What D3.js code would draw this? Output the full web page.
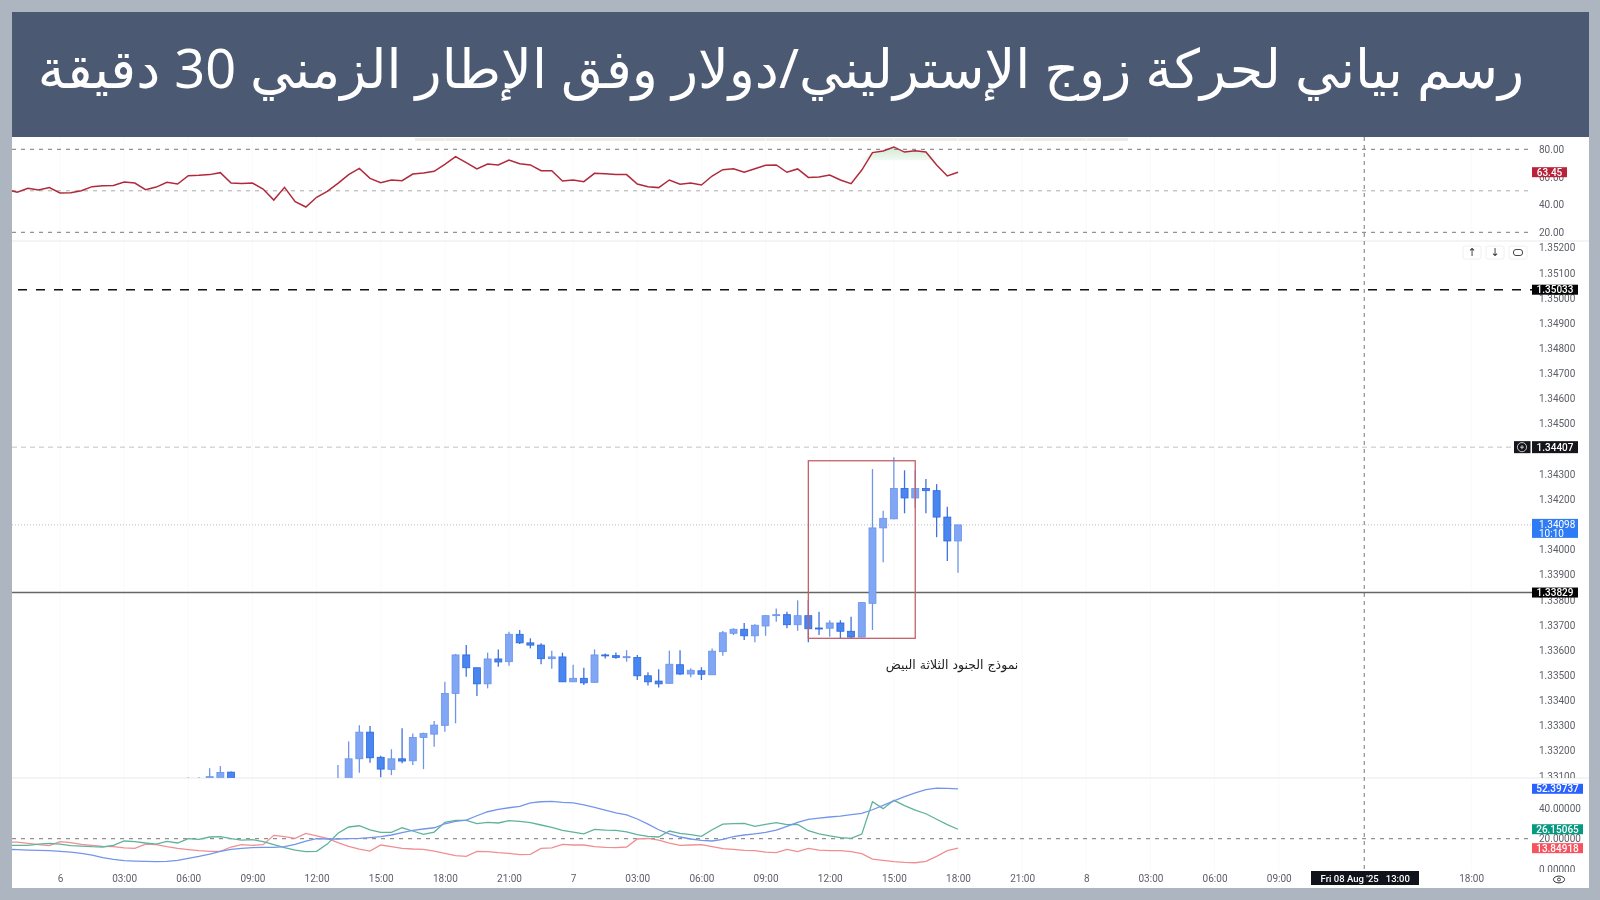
<!DOCTYPE html>
<html lang="ar">
<head>
<meta charset="utf-8">
<title>GBP/USD 30m</title>
<script src="https://cdn.jsdelivr.net/npm/d3@7"></script>
<style>
	html, body { margin: 0; padding: 0; background: #adb6c0; }
	svg { display: block; filter: blur(0.4px); }
	text { font-family: Roboto, "Noto Sans", sans-serif; }
	.axis path, .axis line { display: none; }
	.axis text { fill: #5d6068; font-size: 10px; }
</style>
</head>
<body>
<div id="chart-area"></div>
<script>
const titleText = 'رسم بياني لحركة زوج الإسترليني/دولار وفق الإطار الزمني 30 دقيقة';
const patternText = 'نموذج الجنود الثلاثة البيض';

// half hour slots counted from Aug 6 00:00
const candleSlots = d3.range(12, 17).concat(d3.range(26, 85));
const opens = [
	1.33085, 1.33080, 1.33085, 1.33085, 1.33115,
	1.33040, 1.33075, 1.33168, 1.33274, 1.33174, 1.33126, 1.33168, 1.33160, 1.33253, 1.33266,
	1.33301, 1.33428, 1.33581, 1.33530, 1.33466, 1.33565, 1.33554, 1.33663, 1.33629, 1.33620,
	1.33566, 1.33573, 1.33474, 1.33488, 1.33472, 1.33581, 1.33578, 1.33570, 1.33571, 1.33498,
	1.33477, 1.33468, 1.33542, 1.33505, 1.33518, 1.33502, 1.33594, 1.33667, 1.33683, 1.33657,
	1.33696, 1.33737, 1.33741, 1.33701, 1.33737, 1.33688, 1.33687, 1.33708, 1.33675, 1.33652,
	1.33786, 1.34086, 1.34122, 1.34243, 1.34205, 1.34243, 1.34234, 1.34129, 1.34034
];
const highs = [
	1.33094, 1.33095, 1.33130, 1.33139, 1.33117,
	1.33143, 1.33237, 1.33301, 1.33298, 1.33180, 1.33206, 1.33289, 1.33269, 1.33272, 1.33318,
	1.33474, 1.33585, 1.33620, 1.33530, 1.33590, 1.33603, 1.33673, 1.33680, 1.33647, 1.33627,
	1.33598, 1.33590, 1.33542, 1.33530, 1.33603, 1.33587, 1.33591, 1.33600, 1.33581, 1.33512,
	1.33524, 1.33598, 1.33600, 1.33528, 1.33532, 1.33607, 1.33676, 1.33687, 1.33708, 1.33703,
	1.33740, 1.33766, 1.33753, 1.33798, 1.33799, 1.33753, 1.33719, 1.33719, 1.33733, 1.33791,
	1.34320, 1.34154, 1.34367, 1.34315, 1.34316, 1.34280, 1.34260, 1.34170, 1.34098
];
const lows = [
	1.33075, 1.33070, 1.33075, 1.33075, 1.33075,
	1.33030, 1.33060, 1.33113, 1.33152, 1.33095, 1.33103, 1.33150, 1.33143, 1.33127, 1.33216,
	1.33276, 1.33309, 1.33494, 1.33418, 1.33448, 1.33534, 1.33538, 1.33624, 1.33607, 1.33544,
	1.33526, 1.33473, 1.33473, 1.33461, 1.33470, 1.33567, 1.33566, 1.33554, 1.33481, 1.33459,
	1.33451, 1.33467, 1.33501, 1.33492, 1.33481, 1.33501, 1.33578, 1.33660, 1.33640, 1.33631,
	1.33657, 1.33713, 1.33687, 1.33677, 1.33631, 1.33660, 1.33653, 1.33645, 1.33645, 1.33651,
	1.33680, 1.33949, 1.34120, 1.34144, 1.34165, 1.34144, 1.34049, 1.33954, 1.33908
];
const closes = [
	1.33088, 1.33085, 1.33097, 1.33114, 1.33085,
	1.33070, 1.33168, 1.33274, 1.33172, 1.33127, 1.33168, 1.33159, 1.33253, 1.33269, 1.33302,
	1.33428, 1.33581, 1.33530, 1.33466, 1.33565, 1.33553, 1.33663, 1.33629, 1.33620, 1.33566,
	1.33573, 1.33474, 1.33488, 1.33470, 1.33581, 1.33577, 1.33571, 1.33574, 1.33498, 1.33474,
	1.33466, 1.33544, 1.33505, 1.33520, 1.33504, 1.33596, 1.33669, 1.33683, 1.33657, 1.33699,
	1.33737, 1.33741, 1.33701, 1.33737, 1.33685, 1.33684, 1.33708, 1.33675, 1.33652, 1.33789,
	1.34086, 1.34124, 1.34243, 1.34205, 1.34243, 1.34234, 1.34129, 1.34034, 1.34098
];

// indicator series run from slot -5 to slot 84
const lineSlots = d3.range(-5, 85);
const rsiValues = [
	51.0, 48.9, 51.8, 50.6, 52.3, 48.4, 48.6, 50.1, 53.0, 53.7,
	53.9, 56.4, 55.6, 50.8, 52.7, 56.1, 54.9, 60.9, 61.2, 61.7,
	63.1, 55.6, 55.2, 55.6, 51.3, 43.3, 52.5, 42.1, 38.3, 45.3,
	49.6, 55.4, 61.7, 66.2, 59.0, 55.9, 57.8, 57.3, 62.1, 62.9,
	64.1, 69.1, 74.7, 70.3, 65.8, 69.4, 68.7, 72.3, 69.6, 68.7,
	64.5, 64.5, 57.1, 57.8, 56.6, 62.6, 62.4, 61.7, 61.7, 54.9,
	53.0, 52.3, 57.8, 54.7, 55.6, 54.2, 60.7, 65.3, 66.0, 63.4,
	66.0, 68.4, 68.7, 63.4, 65.8, 59.7, 60.0, 61.4, 57.8, 55.2,
	65.0, 77.6, 78.8, 81.7, 78.0, 79.0, 78.0, 68.7, 60.7, 63.45
];
const adxValues = [
	13.1, 12.9, 12.6, 12.4, 12.2, 11.8, 11.3, 10.5, 9.4, 7.7,
	6.6, 5.7, 5.5, 5.3, 5.1, 5.3, 5.9, 7.2, 8.5, 10.0,
	11.8, 13.1, 13.7, 14.2, 14.4, 14.4, 14.8, 16.3, 18.5, 20.0,
	19.8, 19.8, 20.0, 20.2, 20.7, 21.3, 22.4, 23.9, 25.4, 26.3,
	27.1, 29.7, 31.3, 32.1, 34.9, 37.5, 39.0, 40.1, 41.0, 43.2,
	44.0, 44.3, 43.6, 43.2, 41.9, 40.4, 38.6, 36.7, 35.4, 32.8,
	29.5, 25.8, 23.2, 21.1, 19.8, 18.9, 18.5, 19.6, 21.3, 22.4,
	23.2, 24.1, 25.6, 28.0, 30.6, 32.6, 33.4, 34.1, 34.7, 35.6,
	36.5, 38.8, 41.7, 44.5, 47.3, 49.7, 51.8, 52.9, 52.7, 52.4
];
const plusDiValues = [
	15.7, 15.7, 15.7, 16.5, 17.0, 16.5, 15.5, 15.2, 14.8, 14.6,
	15.7, 18.5, 18.1, 17.2, 16.5, 18.3, 17.2, 20.0, 19.6, 21.1,
	21.3, 20.0, 19.1, 19.4, 18.1, 16.1, 14.2, 12.6, 11.6, 11.8,
	16.5, 23.5, 27.6, 28.4, 25.8, 24.1, 24.1, 27.1, 25.0, 22.8,
	24.3, 30.6, 31.9, 31.9, 29.8, 30.6, 30.2, 31.7, 31.3, 30.4,
	28.9, 27.4, 25.4, 24.3, 23.2, 26.1, 25.6, 25.4, 24.5, 22.6,
	21.5, 21.1, 25.0, 23.5, 22.6, 21.5, 25.8, 29.5, 29.8, 30.0,
	28.0, 29.3, 30.4, 29.1, 29.3, 25.2, 23.2, 21.9, 20.7, 20.2,
	23.0, 44.0, 39.5, 44.9, 41.5, 38.6, 36.2, 32.6, 29.1, 26.15
];
const minusDiValues = [
	17.8, 17.8, 17.0, 16.1, 15.5, 18.1, 17.4, 16.3, 15.7, 15.0,
	14.8, 14.0, 13.7, 16.5, 16.1, 14.8, 13.7, 12.9, 12.2, 11.8,
	11.8, 14.6, 16.1, 15.7, 16.1, 22.2, 21.3, 20.2, 23.5, 21.9,
	20.2, 17.4, 15.0, 13.3, 12.0, 15.9, 14.8, 13.7, 13.3, 13.1,
	12.0, 10.5, 9.0, 8.5, 11.8, 11.6, 10.9, 10.5, 9.6, 9.8,
	13.7, 14.0, 16.3, 15.9, 15.9, 14.8, 14.4, 14.2, 14.6, 19.8,
	20.2, 19.1, 17.2, 15.7, 15.9, 16.1, 14.8, 13.5, 13.1, 12.4,
	12.2, 11.3, 10.9, 13.1, 11.6, 13.7, 12.6, 12.2, 12.2, 11.6,
	10.3, 6.8, 5.9, 5.1, 4.6, 4.4, 5.3, 8.5, 12.2, 13.85
];

// 12:00 and 15:00 of the 8th sit behind the crosshair date, so they are left out
const timeTickSlots = [0, 6, 12, 18, 24, 30, 36, 42, 48, 54, 60, 66, 72, 78, 84, 90, 96, 102, 108, 114, 132];
const timeTickLabels = ['6', '03:00', '06:00', '09:00', '12:00', '15:00', '18:00', '21:00', '7', '03:00', '06:00', '09:00', '12:00', '15:00', '18:00', '21:00', '8', '03:00', '06:00', '09:00', '18:00'];
const priceTicks = d3.range(0, 22).map(i => +(1.331 + i * 0.001).toFixed(3));
const rsiTicks = [80, 60, 40, 20];
const rsiLevels = [80, 50, 20];
const dmiTicks = [40, 20, 0];

const resistancePrice = 1.35033;
const highPrice = 1.34407;
const lastPrice = 1.34098;
const supportPrice = 1.33829;
const countdownLabel = '10:10';
const crosshairSlot = 122;
const crosshairLabel = "Fri 08 Aug '25   13:00";
const patternSlots = [70, 80];
const patternPrices = [1.34353, 1.33647];

const left = 12, right = 1589, axisX = 1532;
const rsiTop = 137, rsiBottom = 241, priceBottom = 778, dmiBottom = 872;

const x = d3.scaleLinear().domain([0, 84]).range([60, 958]);
const y = d3.scaleLinear().domain([1.352, 1.331]).range([247.7, 775.9]);
const yRsi = d3.scaleLinear().domain([80, 20]).range([149.3, 232.3]);
const yDmi = d3.scaleLinear().domain([40, 0]).range([807.9, 869.5]);

const svg = d3.select('#chart-area').append('svg')
	.attr('width', 1600)
	.attr('height', 900);

const defs = svg.append('defs');
const addClip = (id, x0, y0, w, h) => defs.append('clipPath').attr('id', id)
	.append('rect').attr('x', x0).attr('y', y0).attr('width', w).attr('height', h);
addClip('rsi-clip', left, rsiTop, axisX - left, rsiBottom - rsiTop);
addClip('price-clip', left, rsiBottom, axisX - left, priceBottom - rsiBottom);
addClip('dmi-clip', left, priceBottom, axisX - left, dmiBottom - priceBottom);
addClip('price-axis-clip', axisX, rsiBottom, 50, priceBottom - rsiBottom);
addClip('dmi-axis-clip', axisX, priceBottom, 55, dmiBottom - priceBottom);

const fade = defs.append('linearGradient').attr('id', 'overbought')
	.attr('x1', 0).attr('x2', 0).attr('y1', 0).attr('y2', 1);
fade.append('stop').attr('offset', 0).attr('stop-color', '#cfe9d3');
fade.append('stop').attr('offset', 1).attr('stop-color', '#f2faf3');

// frame
svg.append('rect').attr('width', 1600).attr('height', 900).attr('fill', '#adb6c0');
svg.append('rect')
	.attr('x', left).attr('y', rsiTop)
	.attr('width', right - left).attr('height', 888 - rsiTop)
	.attr('fill', '#fff');
svg.append('rect')
	.attr('x', left).attr('y', 12)
	.attr('width', right - left).attr('height', rsiTop - 12)
	.attr('fill', '#4b5a72');
svg.append('text')
	.attr('x', 781)
	.attr('y', 88)
	.attr('text-anchor', 'middle')
	.attr('direction', 'rtl')
	.attr('font-size', 54)
	.attr('fill', '#fff')
	.style('font-family', '"Noto Sans", "DejaVu Sans", sans-serif')
	.text(titleText);
svg.append('rect')
	.attr('x', 415).attr('y', 138)
	.attr('width', 713).attr('height', 3)
	.attr('fill', '#efece6');

// faint grid, only just visible in the reference
const grid = svg.append('g').attr('stroke', '#fafafb').attr('stroke-width', 1);
timeTickSlots.forEach(s => {
	grid.append('line')
		.attr('x1', x(s)).attr('x2', x(s))
		.attr('y1', rsiTop).attr('y2', 871);
});

// pane separators
[rsiBottom, priceBottom].forEach(py => {
	svg.append('line')
		.attr('x1', left).attr('x2', right)
		.attr('y1', py).attr('y2', py)
		.attr('stroke', '#e8e9ec');
});

// crosshair
svg.append('line')
	.attr('x1', x(crosshairSlot)).attr('x2', x(crosshairSlot))
	.attr('y1', rsiTop).attr('y2', 871)
	.attr('stroke', '#777')
	.attr('stroke-dasharray', '4 4');

// RSI pane
const rsiPane = svg.append('g').attr('clip-path', 'url(#rsi-clip)');
const rsiPoints = lineSlots.map((s, i) => ({ slot: s, value: rsiValues[i] }));
const overbought = 72;
rsiPane.append('path')
	.datum(rsiPoints.filter(d => d.slot >= 75 && d.slot <= 82))
	.attr('d', d3.area()
		.x(d => x(d.slot))
		.y0(yRsi(overbought))
		.y1(d => yRsi(Math.max(d.value, overbought))))
	.attr('fill', 'url(#overbought)');
rsiLevels.forEach(level => {
	rsiPane.append('line')
		.attr('x1', left).attr('x2', axisX)
		.attr('y1', yRsi(level)).attr('y2', yRsi(level))
		.attr('stroke', level === 50 ? '#aaa' : '#777')
		.attr('stroke-dasharray', '4 5');
});
rsiPane.append('path')
	.datum(rsiPoints)
	.attr('d', d3.line().x(d => x(d.slot)).y(d => yRsi(d.value)))
	.attr('fill', 'none')
	.attr('stroke', '#b02a3c')
	.attr('stroke-width', 1.5);

// price pane
const pricePane = svg.append('g').attr('clip-path', 'url(#price-clip)');

pricePane.append('line')
	.attr('x1', 18).attr('x2', axisX)
	.attr('y1', y(resistancePrice)).attr('y2', y(resistancePrice))
	.attr('stroke', '#111')
	.attr('stroke-width', 1.5)
	.attr('stroke-dasharray', '9 9');
pricePane.append('line')
	.attr('x1', left).attr('x2', 1514)
	.attr('y1', y(highPrice)).attr('y2', y(highPrice))
	.attr('stroke', '#c2c2c2')
	.attr('stroke-dasharray', '5 4');
pricePane.append('line')
	.attr('x1', left).attr('x2', axisX)
	.attr('y1', y(lastPrice)).attr('y2', y(lastPrice))
	.attr('stroke', '#b9c0cc')
	.attr('stroke-dasharray', '1 2');
pricePane.append('line')
	.attr('x1', left).attr('x2', axisX)
	.attr('y1', y(supportPrice)).attr('y2', y(supportPrice))
	.attr('stroke', '#666')
	.attr('stroke-width', 1.6);

const candles = candleSlots.map((s, i) => ({
	slot: s, open: opens[i], high: highs[i], low: lows[i], close: closes[i]
}));
const isUp = d => d.close >= d.open;
const bodyWidth = 7;

pricePane.selectAll('line.wick')
	.data(candles)
	.enter().append('line')
	.attr('class', 'wick')
	.attr('x1', d => x(d.slot)).attr('x2', d => x(d.slot))
	.attr('y1', d => y(d.high)).attr('y2', d => y(d.low))
	.attr('stroke', d => isUp(d) ? '#6f95e6' : '#3f72dc')
	.attr('stroke-width', 1.3);

pricePane.selectAll('rect.body')
	.data(candles)
	.enter().append('rect')
	.attr('class', 'body')
	.attr('x', d => x(d.slot) - bodyWidth / 2)
	.attr('y', d => y(Math.max(d.open, d.close)))
	.attr('width', bodyWidth)
	.attr('height', d => Math.max(y(Math.min(d.open, d.close)) - y(Math.max(d.open, d.close)), 1))
	.attr('fill', d => isUp(d) ? '#80a6f4' : '#4a86f0')
	.attr('stroke', d => isUp(d) ? '#6a94ea' : '#2c68dd')
	.attr('stroke-width', 0.8);

pricePane.append('rect')
	.attr('x', x(patternSlots[0])).attr('y', y(patternPrices[0]))
	.attr('width', x(patternSlots[1]) - x(patternSlots[0]))
	.attr('height', y(patternPrices[1]) - y(patternPrices[0]))
	.attr('fill', 'none')
	.attr('stroke', '#c4606a')
	.attr('stroke-width', 1.3);

pricePane.append('text')
	.attr('x', 952)
	.attr('y', 669)
	.attr('text-anchor', 'middle')
	.attr('direction', 'rtl')
	.attr('font-size', 12.5)
	.attr('fill', '#222')
	.style('font-family', '"DejaVu Sans", sans-serif')
	.text(patternText);

// DMI pane
const dmiPane = svg.append('g').attr('clip-path', 'url(#dmi-clip)');
dmiPane.append('line')
	.attr('x1', left).attr('x2', axisX)
	.attr('y1', yDmi(20)).attr('y2', yDmi(20))
	.attr('stroke', '#777')
	.attr('stroke-dasharray', '4 5');

const dmiLine = d3.line().x((d, i) => x(lineSlots[i])).y(d => yDmi(d));
[[minusDiValues, '#f08f93'], [plusDiValues, '#5fb39a'], [adxValues, '#7396ea']].forEach(([values, colour]) => {
	dmiPane.append('path')
		.datum(values)
		.attr('d', dmiLine)
		.attr('fill', 'none')
		.attr('stroke', colour)
		.attr('stroke-width', 1.3);
});

// axes
const axisLabelX = 1539;
svg.append('g').attr('class', 'axis')
	.attr('transform', `translate(${axisLabelX - 3}, 0)`)
	.call(d3.axisRight(yRsi).tickValues(rsiTicks).tickSize(0).tickFormat(d3.format('.2f')));
svg.append('g').attr('class', 'axis')
	.attr('clip-path', 'url(#price-axis-clip)')
	.append('g')
	.attr('transform', `translate(${axisLabelX - 3}, 0)`)
	.call(d3.axisRight(y).tickValues(priceTicks).tickSize(0).tickFormat(d3.format('.5f')));
svg.append('g').attr('class', 'axis')
	.attr('clip-path', 'url(#dmi-axis-clip)')
	.append('g')
	.attr('transform', `translate(${axisLabelX - 3}, 0)`)
	.call(d3.axisRight(yDmi).tickValues(dmiTicks).tickSize(0).tickFormat(d3.format('.5f')));

const timeAxis = svg.append('g').attr('class', 'axis')
	.attr('transform', 'translate(0, 872)')
	.call(d3.axisBottom(x)
		.tickValues(timeTickSlots)
		.tickSize(0)
		.tickFormat((d, i) => timeTickLabels[i]));
timeAxis.selectAll('text').attr('dy', '0.32em').attr('y', 7);

// value tags on the axis
const addTag = (value, scale, width, h, fill, label) => {
	const cy = scale(value);
	svg.append('rect')
		.attr('x', axisX).attr('y', cy - h / 2)
		.attr('width', width).attr('height', h)
		.attr('fill', fill);
	svg.append('text')
		.attr('x', axisX + width / 2)
		.attr('y', cy)
		.attr('dy', '0.35em')
		.attr('text-anchor', 'middle')
		.attr('font-size', 10)
		.attr('font-weight', 500)
		.attr('fill', '#fff')
		.text(label);
};
addTag(rsiValues[rsiValues.length - 1], yRsi, 35, 10, '#b8233a', d3.format('.2f')(rsiValues[rsiValues.length - 1]));
addTag(resistancePrice, y, 46, 10, '#050505', d3.format('.5f')(resistancePrice));
addTag(highPrice, y, 46, 12, '#14161c', d3.format('.5f')(highPrice));
addTag(supportPrice, y, 46, 10, '#050505', d3.format('.5f')(supportPrice));
addTag(adxValues[adxValues.length - 1], yDmi, 51, 10, '#2962ff', '52.39737');
addTag(plusDiValues[plusDiValues.length - 1], yDmi, 51, 10, '#089981', '26.15065');
addTag(minusDiValues[minusDiValues.length - 1], yDmi, 51, 10, '#f7525f', '13.84918');

// last price tag has the countdown under it
svg.append('rect')
	.attr('x', axisX).attr('y', y(lastPrice) - 6)
	.attr('width', 46).attr('height', 19)
	.attr('fill', '#2f7bf5');
svg.append('text')
	.attr('x', axisX + 7).attr('y', y(lastPrice)).attr('dy', '0.35em')
	.attr('font-size', 10).attr('fill', '#fff')
	.text(d3.format('.5f')(lastPrice));
svg.append('text')
	.attr('x', axisX + 7).attr('y', y(lastPrice) + 9).attr('dy', '0.35em')
	.attr('font-size', 10).attr('fill', '#fff')
	.text(countdownLabel);

// plus button next to the high tag
svg.append('rect')
	.attr('x', 1514).attr('y', y(highPrice) - 6)
	.attr('width', 16.5).attr('height', 12)
	.attr('fill', '#14161c');
svg.append('circle')
	.attr('cx', 1522).attr('cy', y(highPrice))
	.attr('r', 4.6)
	.attr('fill', 'none').attr('stroke', '#eee').attr('stroke-width', 0.8);
svg.append('path')
	.attr('d', d3.line()([[1520, y(highPrice)], [1524, y(highPrice)]]) + d3.line()([[1522, y(highPrice) - 2], [1522, y(highPrice) + 2]]))
	.attr('stroke', '#eee').attr('stroke-width', 0.8);

// crosshair date tag
svg.append('rect')
	.attr('x', 1311).attr('y', 871)
	.attr('width', 108).attr('height', 14)
	.attr('fill', '#10131a');
svg.append('text')
	.attr('x', x(crosshairSlot) + 1).attr('y', 879).attr('dy', '0.32em')
	.attr('text-anchor', 'middle')
	.attr('font-size', 9.5).attr('font-weight', 500).attr('fill', '#fff')
	.style('white-space', 'pre')
	.text(crosshairLabel);

// scale buttons
[[1472, '↑'], [1495, '↓'], [1518, '']].forEach(([cx, glyph]) => {
	svg.append('rect')
		.attr('x', cx - 9).attr('y', 246)
		.attr('width', 18).attr('height', 13)
		.attr('rx', 2)
		.attr('fill', '#fff')
		.attr('stroke', '#f0f0f2');
	if (glyph) {
		svg.append('text')
			.attr('x', cx).attr('y', 252.5).attr('dy', '0.35em')
			.attr('text-anchor', 'middle')
			.attr('font-size', 11).attr('fill', '#333')
			.style('font-family', '"DejaVu Sans", sans-serif')
			.text(glyph);
	}
});
svg.append('rect')
	.attr('x', 1513.5).attr('y', 249.5)
	.attr('width', 9).attr('height', 6)
	.attr('rx', 2.5)
	.attr('fill', 'none').attr('stroke', '#333').attr('stroke-width', 0.9);

// eye icon
svg.append('ellipse')
	.attr('cx', 1559).attr('cy', 879.5)
	.attr('rx', 5.6).attr('ry', 3.4)
	.attr('fill', 'none').attr('stroke', '#333').attr('stroke-width', 1);
svg.append('circle')
	.attr('cx', 1559).attr('cy', 879.5)
	.attr('r', 1.5)
	.attr('fill', 'none').attr('stroke', '#333').attr('stroke-width', 0.9);
</script>
</body>
</html>
